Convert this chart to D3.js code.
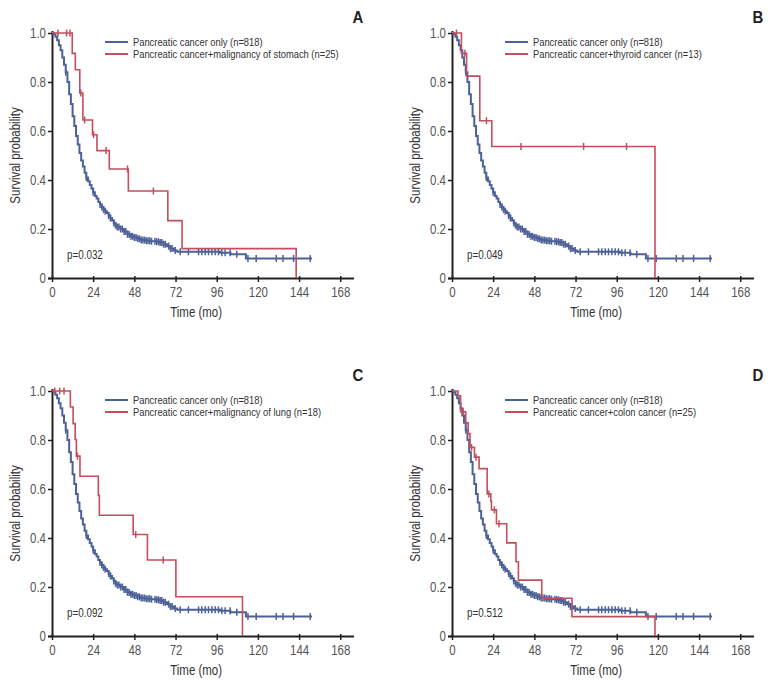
<!DOCTYPE html>
<html>
<head>
<meta charset="utf-8">
<script src="https://cdn.jsdelivr.net/npm/d3@7"></script>
<style>
  html, body { margin: 0; padding: 0; background: #fff; }
  svg { display: block; font-family: "Liberation Sans", Arial, sans-serif; }
</style>
</head>
<body>
<svg id="chart" width="775" height="688"></svg>
<script>
// ---------------- DATA ----------------
const timeTicks = [0, 24, 48, 72, 96, 120, 144, 168];
const survTicks = [0, 0.2, 0.4, 0.6, 0.8, 1.0];
const panelLetters = ["A", "B", "C", "D"];
const pValues = ["p=0.032", "p=0.049", "p=0.092", "p=0.512"];
const baseLabel = "Pancreatic cancer only (n=818)";
const comboLabels = [
  "Pancreatic cancer+malignancy of stomach (n=25)",
  "Pancreatic cancer+thyroid cancer (n=13)",
  "Pancreatic cancer+malignancy of lung (n=18)",
  "Pancreatic cancer+colon cancer (n=25)"
];

// Pancreatic cancer only (n=818): [time (mo), survival]
const pancreasOnlySteps = [
  [0,1.0],[1,0.995],[2,0.985],[3,0.97],[4,0.95],[5,0.93],[6,0.90],[7,0.87],[8,0.84],
  [9,0.80],[10,0.75],[11,0.71],[12,0.66],[13,0.62],[14,0.58],[15,0.545],[16,0.51],
  [17,0.48],[18,0.455],[19,0.43],[20,0.41],[21,0.395],[22,0.38],[23,0.365],[24,0.35],
  [25,0.335],[26,0.325],[27,0.31],[28,0.30],[29,0.29],[30,0.28],[31,0.272],[32,0.265],
  [33,0.255],[34,0.245],[35,0.235],[36,0.225],[37,0.215],[38,0.208],[40,0.20],[42,0.19],
  [44,0.178],[46,0.17],[48,0.165],[50,0.16],[52,0.155],[55,0.152],[58,0.15],[61,0.148],
  [63,0.145],[65,0.138],[67,0.13],[69,0.12],[71,0.112],[73,0.107],[98,0.103],[104,0.097],
  [113,0.08],[151.5,0.08]
];
const pancreasOnlyCensor = [8,20,24,28,29,30,31,33,34,36,37,38,39,40,41,42,43,44,45,46,47,
  48,49,50,51,52,53,54,55,56,57,58,60,61,62,63,64,65,66,68,69,70,71.8,74.7,79.5,85.4,87.3,
  89.3,91.2,93.2,95.1,97,99,100.9,103.8,107.7,114.2,119,130.7,134.6,140.8,150.5];

// Pancreatic cancer + malignancy of stomach (n=25)
const stomachSteps = [[0,1],[11.8,0.917],[13.6,0.85],[16.2,0.755],[18,0.645],[23.6,0.585],
  [26.2,0.52],[33.4,0.445],[44.5,0.355],[67.5,0.234],[75.8,0.12],[142.3,0]];
const stomachCensor = [3.5,8.5,10.5,16.8,19,24.2,31.5,44,59.1];

// Pancreatic cancer + thyroid cancer (n=13)
const thyroidSteps = [[0,1],[5.5,0.917],[8.5,0.824],[16.2,0.642],[23.2,0.537],[118.3,0]];
const thyroidCensor = [2.6,7.5,20.1,40.2,76.7,101.7];

// Pancreatic cancer + malignancy of lung (n=18)
const lungSteps = [[0,1],[10.7,0.935],[12.3,0.867],[13.5,0.802],[14.2,0.734],[16.3,0.652],
  [27.0,0.574],[27.6,0.493],[47.3,0.414],[55.6,0.31],[72.2,0.16],[111,0]];
const lungCensor = [1.6,4.5,7.0,14.8,48.8,64.8];

// Pancreatic cancer + colon cancer (n=25)
const colonSteps = [[0,1],[3.5,0.98],[5,0.915],[8,0.87],[9.4,0.826],[10.5,0.77],[13.1,0.73],
  [15.8,0.683],[20.5,0.58],[22.6,0.55],[23,0.515],[25.9,0.458],[31.9,0.38],[37.3,0.303],
  [38.7,0.228],[52.3,0.154],[69.9,0.079],[118.3,0]];
const colonCensor = [6.5,11.4,14,21.5,24.7,27.4];

const comboSteps = [stomachSteps, thyroidSteps, lungSteps, colonSteps];
const comboCensor = [stomachCensor, thyroidCensor, lungCensor, colonCensor];

// ---------------- LAYOUT ----------------
const BLUE = "#4c6197";
const RED = "#c24f5b";
const NARROW = 0.82;
const panelBoxes = [
  {left: 52, right: 354, top: 33, bottom: 278},
  {left: 452, right: 754, top: 33, bottom: 278},
  {left: 52, right: 354, top: 391, bottom: 636},
  {left: 452, right: 754, top: 391, bottom: 636}
];
const xMax = 176;

const svg = d3.select("#chart");

function stepValue(steps, t) {
  let v = steps[0][1];
  for (const s of steps) { if (s[0] <= t) v = s[1]; else break; }
  return v;
}

function ntext(sel, x, y, str, size, opts = {}) {
  const rot = opts.rotate ? ` rotate(${opts.rotate})` : "";
  const sx = opts.scale || NARROW;
  return sel.append("text")
    .attr("transform", `translate(${x},${y})${rot} scale(${sx},1)`)
    .attr("text-anchor", opts.anchor || "start")
    .attr("font-size", size)
    .attr("font-weight", opts.weight || "normal")
    .attr("fill", opts.fill || "#333")
    .text(str);
}

panelBoxes.forEach((b, i) => {
  const g = svg.append("g");
  const x = d3.scaleLinear().domain([0, xMax]).range([b.left, b.right]);
  const y = d3.scaleLinear().domain([0, 1]).range([b.bottom, b.top]);

  // axes
  const xAxis = d3.axisBottom(x).tickValues(timeTicks).tickSize(4).tickSizeOuter(0).tickPadding(5);
  const gx = g.append("g").attr("transform", `translate(0,${b.bottom})`).call(xAxis);
  gx.attr("font-family", null);
  gx.select(".domain").attr("stroke", "#222").attr("stroke-width", 2)
    .attr("d", `M${b.left - 4},0.5H${b.right}`);
  gx.selectAll(".tick line").attr("stroke", "#222").attr("stroke-width", 1.5).attr("y1", -2);
  gx.selectAll(".tick text").attr("fill", "#555").attr("font-size", 14)
    .attr("transform", `scale(${NARROW},1)`);

  const yAxis = d3.axisLeft(y).tickValues(survTicks).tickSize(4).tickSizeOuter(0).tickPadding(2)
    .tickFormat(d => d === 0 ? "0" : d3.format(".1f")(d));
  const gy = g.append("g").attr("transform", `translate(${b.left},0)`).call(yAxis);
  gy.attr("font-family", null);
  gy.select(".domain").attr("stroke", "#222").attr("stroke-width", 2)
    .attr("d", `M0.5,${b.bottom}V${b.top - 2}`);
  gy.selectAll(".tick line").attr("stroke", "#222").attr("stroke-width", 1.5);
  gy.selectAll(".tick text").attr("fill", "#555").attr("font-size", 14)
    .attr("x", -6 / NARROW).attr("transform", `scale(${NARROW},1)`);

  // axis titles
  ntext(g, (x(0) + x(168)) / 2, b.bottom + 39, "Time (mo)", 14, {anchor: "middle"});
  ntext(g, b.left - 32, (b.top + b.bottom) / 2, "Survival probability", 14,
    {anchor: "middle", rotate: -90});

  // curves
  const line = d3.line().x(d => x(d[0])).y(d => y(d[1])).curve(d3.curveStepAfter);
  g.append("path").datum(pancreasOnlySteps).attr("d", line)
    .attr("fill", "none").attr("stroke", BLUE).attr("stroke-width", 2);
  g.append("g").selectAll("line").data(pancreasOnlyCensor).join("line")
    .attr("x1", d => x(d)).attr("x2", d => x(d))
    .attr("y1", d => y(stepValue(pancreasOnlySteps, d)) - 3.5)
    .attr("y2", d => y(stepValue(pancreasOnlySteps, d)) + 3.5)
    .attr("stroke", BLUE).attr("stroke-width", 1.5);

  const rs = comboSteps[i];
  g.append("path").datum(rs).attr("d", line)
    .attr("fill", "none").attr("stroke", RED).attr("stroke-width", 1.6);
  g.append("g").selectAll("line").data(comboCensor[i]).join("line")
    .attr("x1", d => x(d)).attr("x2", d => x(d))
    .attr("y1", d => y(stepValue(rs, d)) - 3.5)
    .attr("y2", d => y(stepValue(rs, d)) + 3.5)
    .attr("stroke", RED).attr("stroke-width", 1.5);

  // legend
  const lx = b.left + 53, ly = b.top + 9;
  [[BLUE, baseLabel], [RED, comboLabels[i]]].forEach((item, k) => {
    g.append("line").attr("x1", lx).attr("x2", lx + 23)
      .attr("y1", ly + k * 12).attr("y2", ly + k * 12)
      .attr("stroke", item[0]).attr("stroke-width", 2);
    ntext(g, lx + 28, ly + k * 12 + 3.8, item[1], 10.4, {scale: 0.9});
  });

  // p value
  ntext(g, b.left + 15, b.bottom - 19, pValues[i], 12);

  // panel letter
  ntext(g, b.right + 4, b.top - 10, panelLetters[i], 17,
    {anchor: "middle", weight: "bold", fill: "#222", scale: 0.88});
});
</script>
</body>
</html>
